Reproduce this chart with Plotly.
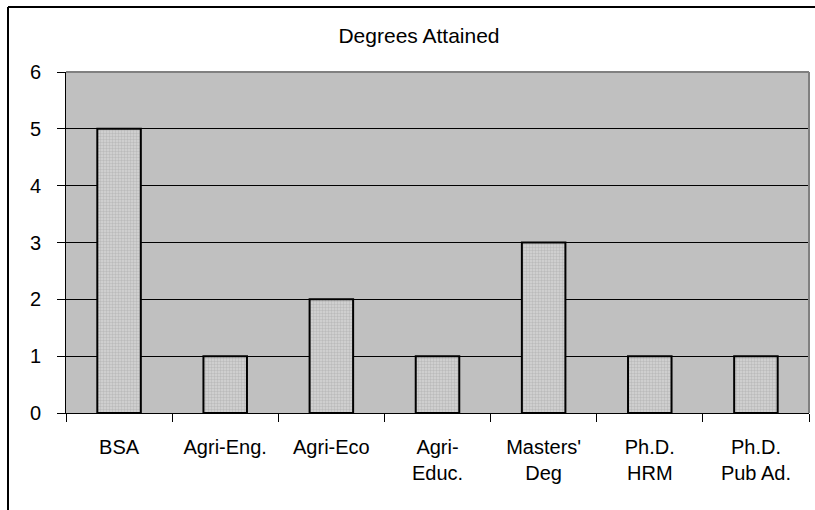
import plotly.graph_objects as go

categories = ["BSA", "Agri-Eng.", "Agri-Eco", "Agri-<br>Educ.", "Masters'<br>Deg", "Ph.D.<br>HRM", "Ph.D.<br>Pub Ad."]
values = [5, 1, 2, 1, 3, 1, 1]
title_text = "Degrees Attained"

fig = go.Figure(go.Bar(
    x=categories, y=values, width=0.41,
    marker=dict(
        color="#D0D0D0",
        line=dict(color="black", width=2),
        pattern=dict(shape=".", size=3, solidity=0.5, fgcolor="#A0A0A0", bgcolor="#D6D6D6"),
    ),
))

font = dict(family="Liberation Sans, Arial, sans-serif", size=20, color="black")
fig.update_layout(
    width=815, height=510,
    margin=dict(l=66, r=6, t=72, b=97),
    paper_bgcolor="white", plot_bgcolor="#C0C0C0",
    font=font, showlegend=False,
    title=dict(text=title_text, x=419 / 815, xanchor="center", y=1 - 36 / 510, yanchor="middle",
               font=dict(family="Liberation Sans, Arial, sans-serif", size=21, color="black")),
    bargap=0.59,
)
fig.update_xaxes(
    showline=True, linecolor="black", linewidth=1,
    ticks="outside", tickson="boundaries", ticklen=8, tickcolor="black",
    showgrid=False, tickfont=font, ticklabelstandoff=16,
)
fig.update_yaxes(
    range=[0, 6], dtick=1, showline=True, linecolor="black", linewidth=1,
    ticks="outside", ticklen=8, tickcolor="black",
    showgrid=True, gridcolor="black", gridwidth=1, zeroline=False,
    tickfont=font, ticklabelstandoff=12,
)
# frame of plot area (top and right)
fig.add_shape(type="line", xref="paper", yref="paper", x0=0, x1=1, y0=1, y1=1,
              line=dict(color="#808080", width=2))
fig.add_shape(type="line", xref="paper", yref="paper", x0=1, x1=1, y0=0, y1=1,
              line=dict(color="#808080", width=2))
# outer chart border (top and left)
px_w, px_h = 815 - 66 - 6, 510 - 72 - 97
fig.add_shape(type="line", xref="paper", yref="paper", x0=(8 - 66) / px_w, x1=(815 - 66) / px_w,
              y0=(510 - 97 - 7) / px_h, y1=(510 - 97 - 7) / px_h, line=dict(color="black", width=2))
fig.add_shape(type="line", xref="paper", yref="paper", x0=(8 - 66) / px_w, x1=(8 - 66) / px_w,
              y0=(510 - 97 - 7) / px_h, y1=-97 / px_h, line=dict(color="black", width=2))

fig.write_html("out.html", config={"displayModeBar": False},
               post_script="document.body.style.margin='0';document.body.style.overflow='hidden';")
